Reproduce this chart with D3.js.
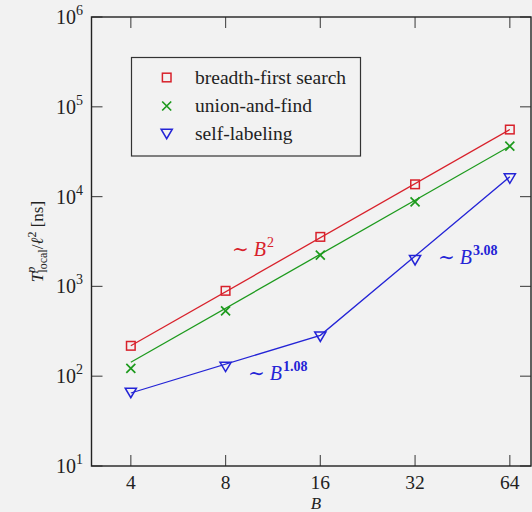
<!DOCTYPE html>
<html>
<head>
<meta charset="utf-8">
<script src="https://cdn.jsdelivr.net/npm/d3@7"></script>
<style>
  html, body { margin: 0; padding: 0; background: #f2f2f2; }
  svg { display: block; }
  text { font-family: "Liberation Serif", "DejaVu Serif", serif; }
</style>
</head>
<body>
<script>
// ---- data ----
const blockSizes = [4, 8, 16, 32, 64];
const bfsValues = [218, 893, 3560, 13700, 55800];
const ufValues = [122, 535, 2230, 8730, 36400];
const slValues = [65, 127, 275, 1960, 15900];
// fitted power-law guide lines
const bfsFitB = [4, 64];
const bfsFitV = [218, 55800];
const ufFitB = [4, 64];
const ufFitV = [143, 36400];
const slFitB = [4, 16, 64];
const slFitV = [65, 285, 16600];
const xTicks = [4, 8, 16, 32, 64];
const yTickExps = [1, 2, 3, 4, 5, 6];
const seriesNames = ["breadth-first search", "union-and-find", "self-labeling"];

const W = 532, H = 512;
const red = "#d8212b", green = "#1d9a1d", blue = "#2424d6";

const svg = d3.select("body").append("svg").attr("width", W).attr("height", H);

const x = d3.scaleLog().base(2).domain([3, 75]).range([91.5, 531.5]);
const y = d3.scaleLog().domain([10, 1e6]).range([466, 17]);

const L = 91.5, R = 531, T = 17, B = 466;

// ticks
const tickG = svg.append("g").attr("stroke", "#555").attr("stroke-width", 1.2);
xTicks.forEach(t => {
  tickG.append("line").attr("x1", x(t)).attr("x2", x(t)).attr("y1", B).attr("y2", B - 11);
  tickG.append("line").attr("x1", x(t)).attr("x2", x(t)).attr("y1", T).attr("y2", T + 11);
});
yTickExps.forEach(e => {
  const v = Math.pow(10, e);
  tickG.append("line").attr("x1", L).attr("x2", L + 11).attr("y1", y(v)).attr("y2", y(v));
  tickG.append("line").attr("x1", R).attr("x2", R - 11).attr("y1", y(v)).attr("y2", y(v));
});

// frame
svg.append("rect").attr("x", L).attr("y", T).attr("width", R - L).attr("height", B - T)
  .attr("fill", "none").attr("stroke", "#222").attr("stroke-width", 1.4);

// x tick labels
svg.append("g").selectAll("text").data(xTicks).join("text")
  .attr("x", d => x(d)).attr("y", 489).attr("text-anchor", "middle")
  .attr("font-size", 19.5).attr("fill", "#222").text(d => d);

// y tick labels
yTickExps.forEach(e => {
  const t = svg.append("text").attr("x", 83).attr("y", y(Math.pow(10, e)) + 7)
    .attr("text-anchor", "end").attr("font-size", 20).attr("fill", "#222");
  t.append("tspan").text("10");
  t.append("tspan").attr("font-size", 14).attr("dy", -9).text(e);
});

// axis titles
svg.append("text").attr("x", 316).attr("y", 508.5).attr("text-anchor", "middle")
  .attr("font-size", 17).attr("font-style", "italic").attr("fill", "#222").text("B");

const yt = svg.append("text").attr("transform", "translate(43,188) rotate(-90)")
  .attr("text-anchor", "start").attr("font-size", 17).attr("fill", "#222");
yt.append("tspan").attr("font-style", "italic").text("T");
yt.append("tspan").attr("font-style", "italic").attr("font-size", 12).attr("dy", -8).text("p");
yt.append("tspan").attr("font-size", 12).attr("dx", -6).attr("dy", 12).text("local");
yt.append("tspan").attr("dy", -4).text("/");
yt.append("tspan").attr("font-style", "italic").text("ℓ");
yt.append("tspan").attr("font-size", 12).attr("dy", -7).text("2");
yt.append("tspan").attr("dy", 7).text(" [ns]");
(function () {
  const len = yt.node().getBBox().width;
  yt.attr("transform", `translate(43,${241.5 + len / 2}) rotate(-90)`);
})();

// lines
const line = d3.line().x(d => x(d[0])).y(d => y(d[1]));
const zip = (a, b) => a.map((v, i) => [v, b[i]]);
svg.append("path").attr("d", line(zip(bfsFitB, bfsFitV))).attr("fill", "none").attr("stroke", red).attr("stroke-width", 1.3);
svg.append("path").attr("d", line(zip(ufFitB, ufFitV))).attr("fill", "none").attr("stroke", green).attr("stroke-width", 1.3);
svg.append("path").attr("d", line(zip(slFitB, slFitV))).attr("fill", "none").attr("stroke", blue).attr("stroke-width", 1.3);

// markers
function square(g, cx, cy, c) {
  g.append("rect").attr("x", cx - 4.3).attr("y", cy - 4.3).attr("width", 8.6).attr("height", 8.6)
    .attr("fill", "none").attr("stroke", c).attr("stroke-width", 1.5);
}
function cross(g, cx, cy, c) {
  const s = 4.5;
  g.append("path").attr("d", `M${cx - s},${cy - s}L${cx + s},${cy + s}M${cx - s},${cy + s}L${cx + s},${cy - s}`)
    .attr("stroke", c).attr("stroke-width", 1.7).attr("fill", "none");
}
function tri(g, cx, cy, c) {
  const w = 5.6, h = 9.5;
  g.append("path").attr("d", `M${cx - w},${cy - h / 2}L${cx + w},${cy - h / 2}L${cx},${cy + h / 2}Z`)
    .attr("stroke", c).attr("stroke-width", 1.5).attr("fill", "none");
}
const mg = svg.append("g");
blockSizes.forEach((b, i) => {
  square(mg, x(b), y(bfsValues[i]), red);
  cross(mg, x(b), y(ufValues[i]), green);
  tri(mg, x(b), y(slValues[i]), blue);
});

// legend
svg.append("rect").attr("x", 131.5).attr("y", 57.5).attr("width", 229).attr("height", 98.5)
  .attr("fill", "none").attr("stroke", "#333").attr("stroke-width", 1.2);
const legY = [77.5, 106, 134];
const markFns = [square, cross, tri];
const colors = [red, green, blue];
seriesNames.forEach((n, i) => {
  markFns[i](svg, 166.7, legY[i], colors[i]);
  svg.append("text").attr("x", 195).attr("y", legY[i] + 6).attr("font-size", 19.5)
    .attr("fill", "#222").text(n);
});

// annotations
function annot(xp, yp, c, exp, bold) {
  const t = svg.append("text").attr("x", xp).attr("y", yp).attr("font-size", 20).attr("fill", c);
  t.append("tspan").text("∼ ");
  t.append("tspan").attr("font-style", "italic").text("B");
  t.append("tspan").attr("font-size", 14).attr("dy", -9).attr("dx", 1)
    .attr("font-weight", bold ? "bold" : "normal").text(exp);
}
annot(232, 256, red, "2", false);
annot(248, 379.5, blue, "1.08", true);
annot(438, 263.5, blue, "3.08", true);
</script>
</body>
</html>
